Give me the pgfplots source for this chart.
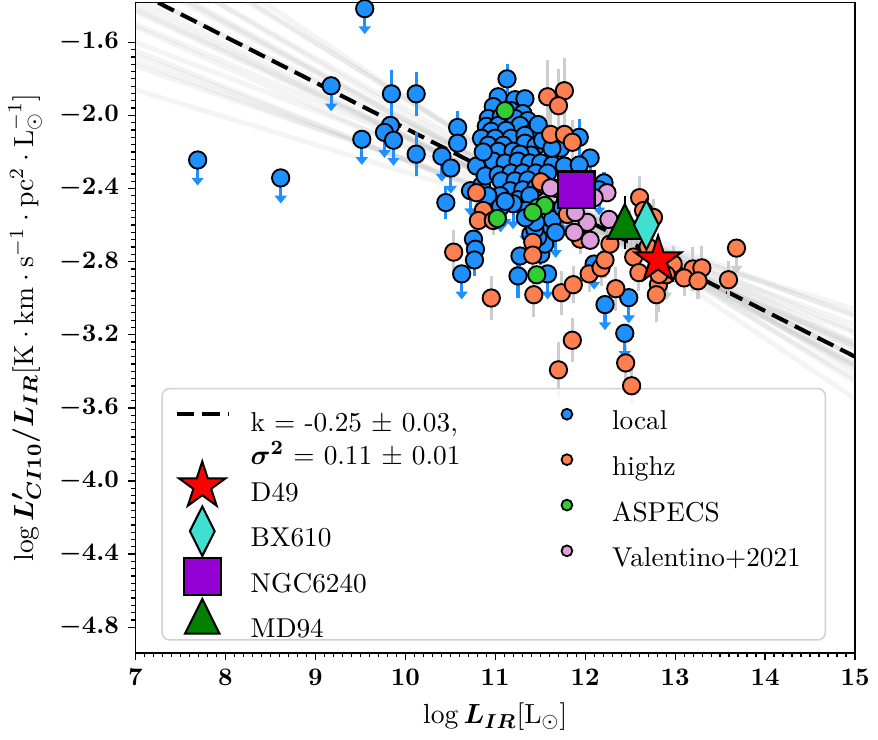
\documentclass[border=0pt]{standalone}
\usepackage{pgfplots}
\pgfplotsset{compat=1.18}
\usepackage{pgfplotstable}
\usepackage{bm}
\usetikzlibrary{arrows.meta}
\definecolor{dodger}{RGB}{30,144,255}
\definecolor{coralc}{RGB}{255,127,80}
\definecolor{limeg}{RGB}{50,205,50}
\definecolor{plumc}{RGB}{221,160,221}
\definecolor{dviolet}{RGB}{148,0,211}
\definecolor{turq}{RGB}{64,224,208}
\definecolor{dgreen}{RGB}{0,128,0}
\definecolor{errgray}{RGB}{205,205,205}

\pgfdeclareplotmark{fstar}{%
 \pgfpathmoveto{\pgfqpointpolar{90}{\pgfplotmarksize}}%
 \pgfpathlineto{\pgfqpointpolar{126}{0.382\pgfplotmarksize}}%
 \pgfpathlineto{\pgfqpointpolar{162}{\pgfplotmarksize}}%
 \pgfpathlineto{\pgfqpointpolar{198}{0.382\pgfplotmarksize}}%
 \pgfpathlineto{\pgfqpointpolar{234}{\pgfplotmarksize}}%
 \pgfpathlineto{\pgfqpointpolar{270}{0.382\pgfplotmarksize}}%
 \pgfpathlineto{\pgfqpointpolar{306}{\pgfplotmarksize}}%
 \pgfpathlineto{\pgfqpointpolar{342}{0.382\pgfplotmarksize}}%
 \pgfpathlineto{\pgfqpointpolar{18}{\pgfplotmarksize}}%
 \pgfpathlineto{\pgfqpointpolar{54}{0.382\pgfplotmarksize}}%
 \pgfpathclose\pgfusepathqfillstroke}

% local, with error bars (x, y, half error)
\pgfplotstableread{
x y e
9.846 -1.882 0.13
10.121 -1.882 0.12
9.835 -2.055 0.0
10.121 -2.212 0.12
10.582 -2.066 0.09
10.582 -2.152 0.0
10.451 -2.477 0.09
10.792 -2.277 0.06
10.847 -2.385 0.05
10.758 -2.677 0.05
10.78 -2.732 0.05
10.769 -2.791 0.09
11.131 -1.80 0.08
11.033 -1.898 0.05
11.22 -1.914 0.05
11.33 -1.909 0.05
10.978 -1.952 0.04
11.176 -1.974 0.04
11.307 -1.99 0.04
10.923 -2.017 0.05
11.066 -2.006 0.04
11.22 -2.017 0.04
11.362 -2.028 0.04
10.901 -2.06 0.04
11.033 -2.055 0.04
11.275 -2.055 0.04
11.396 -2.098 0.04
10.956 -2.087 0.04
11.121 -2.082 0.04
10.847 -2.125 0.05
11.0 -2.125 0.04
11.176 -2.125 0.04
11.33 -2.109 0.04
11.934 -2.12 0.1
10.923 -2.163 0.04
11.088 -2.163 0.04
11.33 -2.152 0.04
11.451 -2.168 0.04
11.527 -2.136 0.05
11.726 -2.179 0.05
11.033 -2.196 0.04
11.198 -2.196 0.04
11.396 -2.217 0.04
11.275 -2.212 0.04
10.978 -2.25 0.04
11.11 -2.26 0.04
11.253 -2.25 0.04
11.385 -2.26 0.04
11.506 -2.26 0.04
11.637 -2.271 0.04
10.89 -2.331 0.04
11.033 -2.325 0.04
11.176 -2.315 0.04
11.307 -2.315 0.04
11.451 -2.315 0.04
11.582 -2.315 0.04
11.066 -2.358 0.04
11.22 -2.358 0.04
11.362 -2.353 0.04
11.165 -2.412 0.05
11.307 -2.407 0.05
11.451 -2.396 0.05
11.055 -2.439 0.05
11.253 -2.461 0.05
11.385 -2.439 0.05
12.209 -2.369 0.06
11.341 -2.52 0.05
11.582 -2.629 0.06
11.396 -2.65 0.05
11.506 -2.759 0.06
11.253 -2.878 0.12
11.55 -2.704 0.06
11.472 -2.667 0.05
11.44 -2.623 0.05
11.769 -2.277 0.06
11.637 -2.569 0.06
10.867 -2.20 0.04
11.477 -2.05 0.05
11.549 -2.38 0.04
11.681 -2.40 0.05
11.783 -2.46 0.05
11.63 -2.18 0.05
}\localdet

% local, upper limits
\pgfplotstableread{
x y
9.549 -1.416
7.692 -2.244
8.615 -2.342
9.176 -1.838
9.517 -2.131
9.769 -2.093
9.869 -2.136
10.407 -2.223
10.506 -2.288
10.725 -2.412
10.627 -2.867
12.055 -2.233
11.934 -2.271
12.154 -2.407
11.198 -2.483
11.451 -2.585
11.671 -2.64
11.275 -2.769
11.582 -2.867
12.099 -2.813
12.22 -3.035
12.484 -2.997
12.44 -3.192
11.747 -2.504
10.918 -2.44
11.06 -2.50
11.335 -2.56
11.111 -2.47
}\localup

% highz, with error bars
\pgfplotstableread{
x y e
11.582 -1.898 0.2
11.769 -1.865 0.18
11.703 -1.947 0.2
11.616 -2.104 0.15
11.769 -2.104 0.12
11.857 -2.147 0.12
11.506 -2.363 0.1
10.792 -2.423 0.08
10.868 -2.52 0.08
10.813 -2.575 0.08
10.978 -2.575 0.08
10.538 -2.748 0.12
10.956 -2.999 0.12
11.417 -2.694 0.08
11.417 -2.764 0.08
11.429 -2.981 0.12
11.736 -2.97 0.12
11.868 -2.926 0.1
11.857 -3.23 0.12
11.703 -3.392 0.15
12.516 -3.479 0.1
12.45 -3.354 0.1
12.044 -2.867 0.1
12.176 -2.834 0.1
12.22 -2.791 0.1
12.34 -2.948 0.12
11.946 -2.677 0.08
12.275 -2.704 0.1
12.539 -2.775 0.1
12.605 -2.45 0.12
12.759 -2.558 0.1
11.802 -2.542 0.08
13.593 -2.899 0.1
13.198 -2.84 0.12
13.297 -2.834 0.12
13.099 -2.889 0.1
13.254 -2.905 0.1
12.978 -2.813 0.1
12.814 -2.926 0.15
12.791 -2.981 0.15
12.649 -2.52 0.1
12.699 -2.72 0.1
12.495 -2.62 0.1
12.597 -2.86 0.1
}\highdet

% highz, upper limits
\pgfplotstableread{
x y
13.682 -2.726
12.901 -2.872
12.821 -2.87
}\highup

\pgfplotstableread{
x y
11.11 -1.974
11.023 -2.564
11.472 -2.504
11.55 -2.493
11.417 -2.531
11.461 -2.872
}\aspecs

\pgfplotstableread{
x y
11.616 -2.396
12.242 -2.423
12.264 -2.569
12.022 -2.585
11.879 -2.64
12.055 -2.683
11.891 -2.531
12.099 -2.45
}\valent

\pgfplotsset{
  limg/.style={legend image code/.code={%
    \draw[##1,overlay] plot coordinates {(10.2pt,3.2pt)};
    \path[draw=none,fill=none] (0pt,-5.4pt) rectangle (27.4pt,11.5pt);}},
  rimg/.style={legend image code/.code={%
    \draw[##1,overlay] plot coordinates {(7.1pt,3.2pt)};
    \path[draw=none,fill=none] (0pt,-5.4pt) rectangle (23pt,11.5pt);}},
  band/.style={gray, opacity=0.085, line width=2pt, forget plot},
  commonax/.style={scale only axis, width=285pt, height=257.5pt,
    xmin=7, xmax=15, ymin=-4.94, ymax=-1.383},
  dot/.style={only marks, mark=*, mark size=3.43pt, mark options={fill=#1, draw=black, line width=0.75pt}, forget plot},
}

\begin{document}
\begin{tikzpicture}
\begin{axis}[commonax,
  xtick={7,8,9,10,11,12,13,14,15},
  ytick={-4.8,-4.4,-4.0,-3.6,-3.2,-2.8,-2.4,-2.0,-1.6},
  minor x tick num=9, minor y tick num=9,
  tick align=outside, tick pos=left,
  major tick length=3pt, minor tick length=1.7pt,
  every tick/.style={black, line width=0.5pt},
  axis line style={line width=0.6pt},
  ticklabel style={font=\normalsize\boldmath},
  yticklabel style={/pgf/number format/fixed, /pgf/number format/fixed zerofill, /pgf/number format/precision=1},
  label style={font=\fontsize{10.8}{13}\selectfont},
  xlabel={$\log\bm{L_{IR}}[\mathrm{L}_{\odot}]$},
  ylabel={$\log\bm{L'_{CI10}/L_{IR}}[\mathrm{K\cdot km\cdot s^{-1}\cdot pc^{2}\cdot L_{\odot}^{-1}}]$},
  legend cell align=left,
  legend style={at={(0.0536,0.400)}, anchor=north west, draw=none, fill=none, inner sep=0pt, row sep=0pt, font=\fontsize{10.8}{13}\selectfont},
]
% posterior fit lines
\addplot[band] coordinates {(7,-1.73) (15,-3.09)};
\addplot[band] coordinates {(7,-1.67) (15,-3.19)};
\addplot[band] coordinates {(7,-1.50) (15,-3.18)};
\addplot[band] coordinates {(7,-1.515) (15,-3.275)};
\addplot[band] coordinates {(7,-1.42) (15,-3.26)};
\addplot[band] coordinates {(7,-1.325) (15,-3.245)};
\addplot[band] coordinates {(7,-1.32) (15,-3.32)};
\addplot[band] coordinates {(7,-1.36) (15,-3.36)};
\addplot[band] coordinates {(7,-1.245) (15,-3.325)};
\addplot[band] coordinates {(7,-1.22) (15,-3.38)};
\addplot[band] coordinates {(7,-1.125) (15,-3.365)};
\addplot[band] coordinates {(7,-1.12) (15,-3.44)};
\addplot[band] coordinates {(7,-0.98) (15,-3.46)};
\addplot[band] coordinates {(7,-0.91) (15,-3.55)};
\addplot[band] coordinates {(7,-1.645) (15,-3.245)};
\addplot[band] coordinates {(7,-1.005) (15,-3.405)};
\addplot[band] coordinates {(7,-1.395) (15,-3.315)};
\addplot[band] coordinates {(7,-1.705) (15,-3.145)};
\addplot[band] coordinates {(7,-1.43) (15,-3.27)};
\addplot[band] coordinates {(7,-1.21) (15,-3.37)};
\addplot[band] coordinates {(7,-1.86) (15,-3.06)};
\addplot[band] coordinates {(7,-1.60) (15,-3.10)};
% best fit
\addplot[black, line width=1.6pt, dash pattern=on 7pt off 3.1pt, forget plot] coordinates {(7,-1.32) (15,-3.32)};

% highz error bars and limits
\addplot[quiver={u=0,v=\thisrow{e}}, errgray, line width=1.2pt, forget plot] table[x=x,y=y] {\highdet};
\addplot[quiver={u=0,v=-\thisrow{e}}, errgray, line width=1.2pt, forget plot] table[x=x,y=y] {\highdet};
\addplot[quiver={u=0,v=-0.14}, errgray, line width=1.2pt, -{Triangle[width=4.7pt,length=3.1pt]}, forget plot] table[x=x,y=y] {\highup};
% local error bars and limits
\addplot[quiver={u=0,v=\thisrow{e}}, dodger, line width=1.2pt, forget plot] table[x=x,y=y] {\localdet};
\addplot[quiver={u=0,v=-\thisrow{e}}, dodger, line width=1.2pt, forget plot] table[x=x,y=y] {\localdet};
\addplot[quiver={u=0,v=-0.14}, dodger, line width=1.2pt, -{Triangle[width=4.7pt,length=3.1pt]}, forget plot] table[x=x,y=y] {\localup};

% points
\addplot[dot=dodger] table[x=x,y=y] {\localdet};
\addplot[dot=dodger] table[x=x,y=y] {\localup};
\addplot[dot=coralc] table[x=x,y=y] {\highdet};
\addplot[dot=coralc] table[x=x,y=y] {\highup};
\addplot[dot=limeg] table[x=x,y=y] {\aspecs};
\addplot[dot=plumc] table[x=x,y=y] {\valent};

% special sources
\addplot[only marks, mark=square*, mark size=7.25pt, mark options={fill=dviolet, draw=black, line width=0.8pt}, forget plot] coordinates {(11.90,-2.407)};
\addplot[black, line width=0.8pt, mark=none, forget plot, error bars/.cd, y dir=both, y explicit, error mark=-, error mark options={black, mark size=1.9pt, line width=0.8pt}, error bar style={black, line width=0.8pt}] coordinates {(12.44,-2.612) += (0,0.146) -= (0,0.093)};
\addplot[only marks, mark=triangle*, mark size=7.9pt, mark options={fill=dgreen, draw=black, line width=0.8pt, yscale=1.16}, forget plot] coordinates {(12.44,-2.612)};
\addplot[only marks, mark=diamond*, mark size=9.8pt, mark options={fill=turq, draw=black, line width=0.8pt, xscale=0.667}, forget plot] coordinates {(12.68,-2.599)};
\addplot[quiver={u=0,v=-0.227}, black, line width=1.2pt, -{Triangle[width=4.7pt,length=3.1pt]}, forget plot] coordinates {(12.81,-2.791)};
\addplot[only marks, mark=fstar, mark size=9.7pt, mark options={fill=red, draw=black, line width=0.8pt}, forget plot] coordinates {(12.81,-2.791)};

% legend frame
\draw[rounded corners=3pt, draw=black!18, line width=0.6pt, fill=white, fill opacity=0.8] (rel axis cs:0.037,0.0198) rectangle (rel axis cs:0.9587,0.4064);

\addlegendimage{legend image code/.code={\draw[black, line width=1.6pt, dash pattern=on 7pt off 3.1pt] (0pt,3.2pt) -- (20.4pt,3.2pt); \path[draw=none,fill=none] (0pt,-16.9pt) rectangle (27.4pt,11.5pt);}}
\addlegendentry{\begin{tabular}[t]{@{}l@{}}k = -0.25 $\pm$ 0.03,\\ $\bm{\sigma^2}$ = 0.11 $\pm$ 0.01\end{tabular}}
\addlegendimage{only marks, mark=fstar, mark size=9.7pt, mark options={fill=red, draw=black, line width=0.8pt}, limg}
\addlegendentry{D49}
\addlegendimage{only marks, mark=diamond*, mark size=9.8pt, mark options={fill=turq, draw=black, line width=0.8pt, xscale=0.667}, limg}
\addlegendentry{BX610}
\addlegendimage{only marks, mark=square*, mark size=7.25pt, mark options={fill=dviolet, draw=black, line width=0.8pt}, limg}
\addlegendentry{NGC6240}
\addlegendimage{only marks, mark=triangle*, mark size=7.9pt, mark options={fill=dgreen, draw=black, line width=0.8pt, yscale=1.16}, limg}
\addlegendentry{MD94}
\end{axis}

\begin{axis}[commonax, hide axis,
  legend cell align=left,
  legend style={at={(0.574,0.400)}, anchor=north west, draw=none, fill=none, inner sep=0pt, row sep=0pt, font=\fontsize{10.8}{13}\selectfont},
]
\addlegendimage{only marks, mark=*, mark size=2.15pt, mark options={fill=dodger, draw=black, line width=0.7pt}, rimg}
\addlegendentry{local}
\addlegendimage{only marks, mark=*, mark size=2.15pt, mark options={fill=coralc, draw=black, line width=0.7pt}, rimg}
\addlegendentry{highz}
\addlegendimage{only marks, mark=*, mark size=2.15pt, mark options={fill=limeg, draw=black, line width=0.7pt}, rimg}
\addlegendentry{ASPECS}
\addlegendimage{only marks, mark=*, mark size=2.15pt, mark options={fill=plumc, draw=black, line width=0.7pt}, rimg}
\addlegendentry{Valentino+2021}
\addplot[draw=none, forget plot] coordinates {(8,-3)};
\end{axis}
\end{tikzpicture}
\end{document}
